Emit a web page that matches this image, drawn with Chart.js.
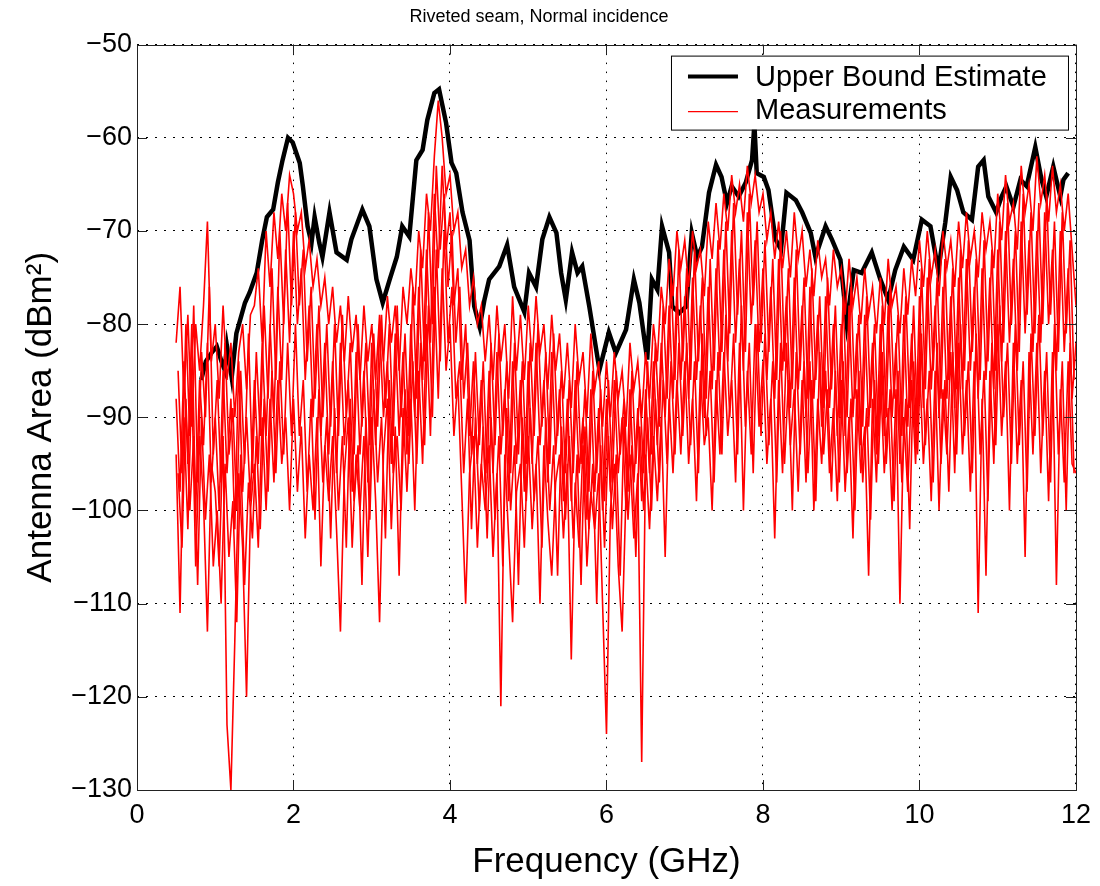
<!DOCTYPE html>
<html>
<head>
<meta charset="utf-8">
<script src="https://cdn.jsdelivr.net/npm/chart.js@4.4.1/dist/chart.umd.min.js"></script>
<style>
  html, body { margin: 0; padding: 0; background: #fff; }
  #wrap { width: 1100px; height: 886px; }
</style>
</head>
<body>
<div id="wrap"><canvas id="seamChart" width="1100" height="886"></canvas></div>
<script>
// axis ticks
const freqTicks = [0, 2, 4, 6, 8, 10, 12];
const levelTicks = [-130, -120, -110, -100, -90, -80, -70, -60, -50];

// upper bound estimate (black)
const boundFreq = [0.82, 0.88, 0.96, 1.02, 1.08, 1.12, 1.15, 1.21, 1.27, 1.38, 1.44, 1.53, 1.60, 1.66, 1.74, 1.80, 1.86, 1.93, 1.99,
  2.08, 2.12, 2.18, 2.23, 2.27, 2.33, 2.37, 2.46, 2.55, 2.68, 2.74, 2.88, 2.97, 3.06, 3.14, 3.23, 3.32, 3.39, 3.48, 3.57, 3.65,
  3.71, 3.80, 3.86, 3.95, 4.02, 4.08, 4.16, 4.25, 4.31, 4.38, 4.44, 4.50, 4.63, 4.73, 4.82, 4.95, 5.01, 5.10, 5.18, 5.27, 5.36,
  5.42, 5.48, 5.56, 5.63, 5.69, 5.78, 5.91, 6.03, 6.12, 6.25, 6.35, 6.42, 6.52, 6.58, 6.65, 6.71, 6.80, 6.84, 6.93, 7.02, 7.09,
  7.16, 7.22, 7.31, 7.40, 7.47, 7.54, 7.60, 7.69, 7.78, 7.86, 7.89, 7.92, 8.01, 8.07, 8.16, 8.23, 8.30, 8.42, 8.50, 8.61, 8.67,
  8.80, 8.88, 8.99, 9.07, 9.16, 9.26, 9.39, 9.50, 9.60, 9.69, 9.80, 9.92, 10.03, 10.14, 10.24, 10.33, 10.40, 10.48, 10.56, 10.67,
  10.75, 10.82, 10.88, 10.98, 11.05, 11.11, 11.20, 11.29, 11.37, 11.48, 11.56, 11.62, 11.71, 11.80, 11.84, 11.90];
const boundLevel = [-86, -84, -83, -82.4, -84, -84.9, -82.4, -85.7, -81, -77.7, -76.6, -74.5, -71, -68.5, -67.7, -64.8, -62.4, -60, -60.5,
  -62.7, -65.2, -69.5, -71.3, -68.5, -71.3, -72.8, -68, -72.3, -73.1, -70.9, -67.7, -69.5, -75.2, -77.7, -75.2, -72.8, -69.5, -70.6, -62.4, -61.3,
  -58.1, -55.2, -54.8, -58.4, -62.7, -63.8, -68, -71, -78.1, -80.3, -77.4, -75.2, -73.8, -71.5, -76, -78.7, -74.5, -76, -70.9, -68.5, -70.2,
  -74.5, -77.4, -72.3, -74.5, -73.8, -78.1, -84.9, -80.9, -83.1, -80.6, -75.2, -77.7, -83.8, -75.2, -76.3, -69.5, -72.3, -78.1, -78.8, -78.1, -70.2,
  -72.8, -71.7, -65.9, -62.9, -64.2, -67, -65.2, -66.3, -64.8, -62.4, -58.5, -63.8, -64.2, -65.6, -70.9, -72, -65.9, -66.7, -68, -70.2, -72.8,
  -69.5, -70.9, -73.1, -79.9, -74.2, -74.5, -72.3, -75.2, -77.4, -74.2, -71.7, -73.1, -68.8, -69.5, -74.2, -69.1, -64.2, -65.6, -68, -68.8,
  -63.1, -62.4, -66.3, -68, -66.3, -65.2, -67.4, -64.5, -65.2, -61, -64.5, -66.3, -63.1, -66.3, -64.5, -63.8];

// measurements (red): A-C sampled every 0.05 GHz from 0.5 GHz, D-E from 0.525 GHz
const measStep = 0.05;
const measStartAC = 0.5;
const measStartDE = 0.525;
const measA = [
  -82, -76, -88, -79, -91, -80, -85, -78, -69, -84,
  -80, -88, -78, -86, -82, -90, -83, -80, -87, -79,
  -78, -74, -82, -70, -76, -68, -73, -66, -70, -64,
  -66, -70, -68, -74, -71, -76, -73, -78, -75, -80,
  -76, -82, -78, -84, -77, -83, -79, -86, -78, -84,
  -80, -86, -79, -84, -77, -82, -78, -85, -76, -80,
  -74, -78, -70, -74, -66, -70, -62, -56, -60, -66,
  -64, -70, -68, -74, -72, -78, -75, -80, -78, -84,
  -79, -86, -78, -84, -80, -88, -77, -85, -79, -86,
  -78, -84, -77, -83, -80, -87, -79, -85, -81, -88,
  -82, -89, -80, -86, -83, -90, -81, -87, -84, -91,
  -84, -90, -83, -88, -85, -91, -82, -87, -84, -90,
  -83, -88, -80, -84, -76, -80, -73, -77, -70, -74,
  -71, -76, -70, -74, -72, -77, -69, -73, -67, -72,
  -66, -70, -64, -68, -65, -69, -63, -67, -64, -68,
  -66, -71, -68, -73, -69, -74, -70, -75, -68, -73,
  -70, -76, -72, -77, -71, -75, -73, -78, -72, -76,
  -74, -79, -73, -78, -75, -80, -74, -79, -76, -81,
  -75, -80, -73, -78, -76, -81, -74, -79, -73, -77,
  -71, -76, -70, -75, -72, -77, -70, -74, -71, -76,
  -69, -74, -68, -73, -70, -75, -68, -72, -69, -74,
  -66, -71, -64, -69, -67, -72, -63, -68, -65, -70,
  -62, -67, -64, -69, -63, -68, -65, -70, -66, -72,
  -78];
const measB = [
  -88, -98, -84, -95, -80, -100, -86, -93, -82, -97,
  -90, -100, -85, -96, -88, -102, -84, -98, -90, -99,
  -86, -95, -82, -92, -80, -90, -76, -86, -72, -82,
  -70, -80, -74, -86, -78, -90, -80, -92, -82, -94,
  -84, -96, -82, -93, -86, -98, -83, -94, -85, -97,
  -82, -93, -80, -90, -84, -95, -81, -92, -83, -94,
  -80, -90, -76, -86, -72, -82, -66, -74, -63, -72,
  -68, -78, -74, -86, -80, -92, -84, -95, -86, -97,
  -85, -96, -83, -94, -87, -99, -84, -95, -86, -98,
  -84, -95, -82, -93, -86, -97, -83, -94, -87, -99,
  -88, -99, -86, -96, -90, -101, -87, -98, -89, -100,
  -88, -98, -86, -96, -90, -100, -87, -97, -89, -99,
  -87, -96, -84, -93, -82, -90, -78, -88, -76, -86,
  -77, -88, -75, -86, -78, -90, -76, -87, -74, -85,
  -72, -84, -70, -82, -73, -85, -68, -80, -71, -83,
  -74, -86, -76, -88, -73, -85, -77, -89, -75, -87,
  -78, -90, -76, -88, -79, -91, -77, -89, -80, -92,
  -80, -92, -78, -90, -81, -93, -79, -91, -82, -94,
  -80, -92, -78, -90, -82, -95, -79, -91, -81, -93,
  -77, -89, -75, -87, -78, -90, -76, -88, -77, -89,
  -75, -87, -73, -85, -76, -88, -74, -86, -75, -87,
  -72, -84, -70, -82, -73, -85, -69, -81, -71, -83,
  -70, -82, -68, -80, -72, -85, -70, -83, -74, -88,
  -82];
const measC = [
  -94, -111, -90, -102, -86, -106, -92, -99, -113, -95,
  -98, -106, -92, -123, -130, -114, -96, -104, -120, -100,
  -95, -104, -90, -100, -88, -97, -86, -95, -90, -100,
  -88, -98, -91, -103, -94, -100, -90, -106, -93, -99,
  -92, -102, -113, -96, -90, -104, -94, -100, -92, -105,
  -90, -99, -112, -94, -88, -102, -91, -107, -89, -98,
  -88, -100, -85, -95, -80, -92, -76, -88, -74, -85,
  -80, -92, -86, -98, -110, -96, -92, -104, -95, -100,
  -93, -105, -96, -121, -94, -103, -112, -98, -95, -104,
  -92, -102, -95, -110, -93, -101, -107, -97, -94, -103,
  -95, -116, -97, -104, -93, -106, -98, -102, -96, -110,
  -124, -100, -95, -106, -113, -98, -94, -103, -96, -127,
  -94, -102, -92, -99, -90, -105, -88, -96, -86, -94,
  -84, -95, -88, -99, -85, -93, -90, -100, -86, -94,
  -83, -92, -86, -97, -82, -100, -85, -94, -80, -91,
  -84, -95, -88, -103, -86, -96, -82, -93, -87, -98,
  -86, -97, -84, -100, -88, -95, -85, -96, -89, -99,
  -86, -98, -90, -103, -87, -96, -91, -107, -88, -97,
  -85, -96, -89, -100, -87, -110, -90, -98, -86, -95,
  -84, -95, -88, -99, -85, -100, -87, -94, -83, -96,
  -82, -94, -86, -98, -84, -111, -88, -107, -85, -95,
  -80, -92, -84, -100, -82, -95, -86, -105, -83, -94,
  -82, -96, -85, -99, -83, -108, -87, -97, -84, -95,
  -96];
const measD = [
  -85, -96, -80, -92, -78, -97, -83, -90, -76, -94,
  -86, -97, -82, -94, -89, -100, -85, -95, -81, -96,
  -83, -92, -78, -88, -74, -86, -70, -80, -67, -78,
  -68, -78, -72, -84, -76, -88, -78, -90, -80, -91,
  -80, -92, -79, -90, -82, -94, -80, -91, -82, -93,
  -81, -91, -79, -89, -80, -92, -78, -90, -81, -92,
  -76, -88, -72, -84, -68, -80, -63, -72, -66, -76,
  -70, -82, -76, -88, -82, -94, -83, -93, -84, -96,
  -82, -93, -81, -92, -84, -96, -82, -94, -84, -95,
  -82, -92, -80, -91, -83, -95, -81, -92, -85, -96,
  -86, -96, -84, -95, -87, -98, -85, -96, -87, -99,
  -86, -97, -85, -94, -88, -98, -85, -95, -87, -96,
  -84, -94, -82, -91, -78, -88, -75, -86, -72, -84,
  -74, -86, -72, -84, -75, -88, -73, -85, -71, -83,
  -69, -81, -67, -79, -70, -83, -66, -78, -69, -82,
  -71, -83, -73, -86, -70, -84, -74, -87, -72, -85,
  -75, -88, -74, -86, -77, -89, -75, -87, -78, -90,
  -77, -90, -76, -88, -79, -91, -77, -89, -80, -92,
  -78, -90, -76, -88, -79, -92, -77, -89, -78, -91,
  -74, -87, -73, -85, -75, -88, -73, -86, -74, -87,
  -72, -85, -71, -83, -73, -86, -71, -84, -72, -85,
  -69, -82, -67, -80, -70, -83, -66, -79, -68, -81,
  -67, -80, -66, -79, -69, -83, -68, -81, -71, -86];
const measE = [
  -96, -104, -88, -100, -92, -108, -90, -101, -94, -106,
  -100, -110, -95, -105, -99, -112, -94, -108, -97, -103,
  -92, -102, -88, -98, -85, -96, -84, -94, -82, -92,
  -80, -92, -86, -98, -88, -101, -87, -97, -90, -103,
  -89, -100, -92, -104, -88, -99, -93, -108, -90, -101,
  -87, -97, -90, -103, -86, -96, -92, -100, -87, -95,
  -84, -95, -82, -93, -78, -90, -72, -84, -70, -82,
  -76, -88, -84, -96, -88, -102, -90, -100, -91, -103,
  -90, -101, -92, -106, -89, -100, -93, -108, -90, -99,
  -89, -99, -92, -104, -90, -100, -93, -107, -91, -101,
  -92, -103, -94, -108, -91, -102, -95, -110, -93, -104,
  -92, -102, -94, -107, -90, -101, -93, -105, -91, -100,
  -90, -100, -88, -97, -86, -95, -84, -94, -82, -92,
  -82, -93, -84, -96, -81, -92, -85, -97, -83, -94,
  -79, -90, -81, -94, -78, -91, -82, -96, -80, -92,
  -81, -93, -84, -97, -82, -95, -86, -100, -83, -94,
  -84, -96, -86, -99, -83, -94, -87, -98, -85, -97,
  -84, -96, -88, -100, -85, -97, -89, -101, -86, -95,
  -83, -95, -87, -99, -85, -97, -88, -102, -84, -94,
  -81, -93, -85, -97, -82, -95, -86, -98, -83, -94,
  -80, -92, -84, -96, -81, -94, -85, -99, -82, -93,
  -78, -90, -82, -95, -80, -93, -84, -98, -81, -92,
  -79, -92, -83, -97, -80, -94, -84, -100, -82, -96];

const FONT = "'Liberation Sans', Arial, Helvetica, sans-serif";

function toPoints(xs, ys) {
  return ys.map((v, i) => ({ x: xs[i], y: v }));
}
function measPoints(start, ys) {
  return ys.map((v, i) => ({ x: start + i * measStep, y: v }));
}
const minus = v => String(v).replace('-', '\u2212');

const redLine = (label, start, ys) => ({
  label: label,
  data: measPoints(start, ys),
  borderColor: '#ff0000',
  borderWidth: 1.6,
  pointRadius: 0,
  tension: 0,
  order: 1
});

// inward ticks and the box round the axes
const axesBox = {
  id: 'axesBox',
  afterDatasetsDraw(chart) {
    const { ctx, chartArea: a, scales: { x, y } } = chart;
    ctx.save();
    ctx.setLineDash([]);
    ctx.strokeStyle = '#222';
    ctx.lineWidth = 1;
    ctx.beginPath();
    freqTicks.forEach(t => {
      const px = Math.round(x.getPixelForValue(t)) + 0.5;
      ctx.moveTo(px, a.bottom); ctx.lineTo(px, a.bottom - 10);
      ctx.moveTo(px, a.top); ctx.lineTo(px, a.top + 10);
    });
    levelTicks.forEach(t => {
      const py = Math.round(y.getPixelForValue(t)) + 0.5;
      ctx.moveTo(a.left, py); ctx.lineTo(a.left + 10, py);
      ctx.moveTo(a.right, py); ctx.lineTo(a.right - 10, py);
    });
    ctx.stroke();
    ctx.strokeRect(Math.round(a.left) + 0.5, Math.round(a.top) + 0.5, Math.round(a.width), Math.round(a.height));
    ctx.restore();
  }
};

// matlab-style legend inside the axes, top right
const boxLegend = {
  id: 'boxLegend',
  afterDraw(chart) {
    const ctx = chart.ctx;
    const a = chart.chartArea;
    const x0 = a.right - 405, y0 = a.top + 11, w = 397, h = 74;
    ctx.save();
    ctx.fillStyle = '#fff';
    ctx.fillRect(x0, y0, w, h);
    ctx.strokeStyle = '#000';
    ctx.lineWidth = 1;
    ctx.strokeRect(x0 + 0.5, y0 + 0.5, w, h);
    ctx.lineWidth = 4;
    ctx.beginPath(); ctx.moveTo(x0 + 17, y0 + 21); ctx.lineTo(x0 + 67, y0 + 21); ctx.stroke();
    ctx.strokeStyle = '#ff0000';
    ctx.lineWidth = 1.4;
    ctx.beginPath(); ctx.moveTo(x0 + 17, y0 + 56); ctx.lineTo(x0 + 67, y0 + 56); ctx.stroke();
    ctx.fillStyle = '#000';
    ctx.font = '29px ' + FONT;
    ctx.textBaseline = 'middle';
    ctx.fillText(chart.data.datasets[0].label, x0 + 84, y0 + 22);
    ctx.fillText(chart.data.datasets[1].label, x0 + 84, y0 + 55);
    ctx.restore();
  }
};

new Chart(document.getElementById('seamChart'), {
  type: 'line',
  data: {
    datasets: [
      {
        label: 'Upper Bound Estimate',
        data: toPoints(boundFreq, boundLevel),
        borderColor: '#000',
        borderWidth: 4.5,
        pointRadius: 0,
        tension: 0,
        order: 2
      },
      redLine('Measurements', measStartAC, measC),
      redLine('Measurements', measStartDE, measE),
      redLine('Measurements', measStartAC, measB),
      redLine('Measurements', measStartDE, measD),
      redLine('Measurements', measStartAC, measA)
    ]
  },
  options: {
    responsive: false,
    animation: false,
    events: [],
    layout: { padding: { top: 0, right: 22, bottom: 0, left: 0 } },
    plugins: {
      legend: { display: false },
      tooltip: { enabled: false },
      title: {
        display: true,
        text: 'Riveted seam, Normal incidence',
        color: '#000',
        font: { family: FONT, size: 18, weight: 'normal' },
        padding: { top: 6, bottom: 17 }
      }
    },
    scales: {
      x: {
        type: 'linear',
        min: 0,
        max: 12,
        afterBuildTicks: s => { s.ticks = freqTicks.map(v => ({ value: v })); },
        afterFit: s => { s.height = 96; },
        grid: { color: '#000', lineWidth: 1, drawTicks: false },
        border: { display: false, dash: [1.5, 7.5] },
        ticks: { color: '#000', padding: 9, font: { family: FONT, size: 27 }, maxRotation: 0, callback: v => minus(v) },
        title: { display: true, text: 'Frequency (GHz)', color: '#000', font: { family: FONT, size: 35 }, padding: { top: 0, bottom: 3 } }
      },
      y: {
        min: -130,
        max: -50,
        afterBuildTicks: s => { s.ticks = levelTicks.map(v => ({ value: v })); },
        afterFit: s => { s.width = 137; },
        grid: { color: '#000', lineWidth: 1, drawTicks: false },
        border: { display: false, dash: [2, 7] },
        ticks: { color: '#000', padding: 5, font: { family: FONT, size: 27 }, callback: v => minus(v) },
        title: { display: true, text: 'Antenna Area (dBm\u00B2)', color: '#000', font: { family: FONT, size: 35 }, padding: { top: 20, bottom: 0 } }
      }
    }
  },
  plugins: [axesBox, boxLegend]
});
</script>
</body>
</html>
